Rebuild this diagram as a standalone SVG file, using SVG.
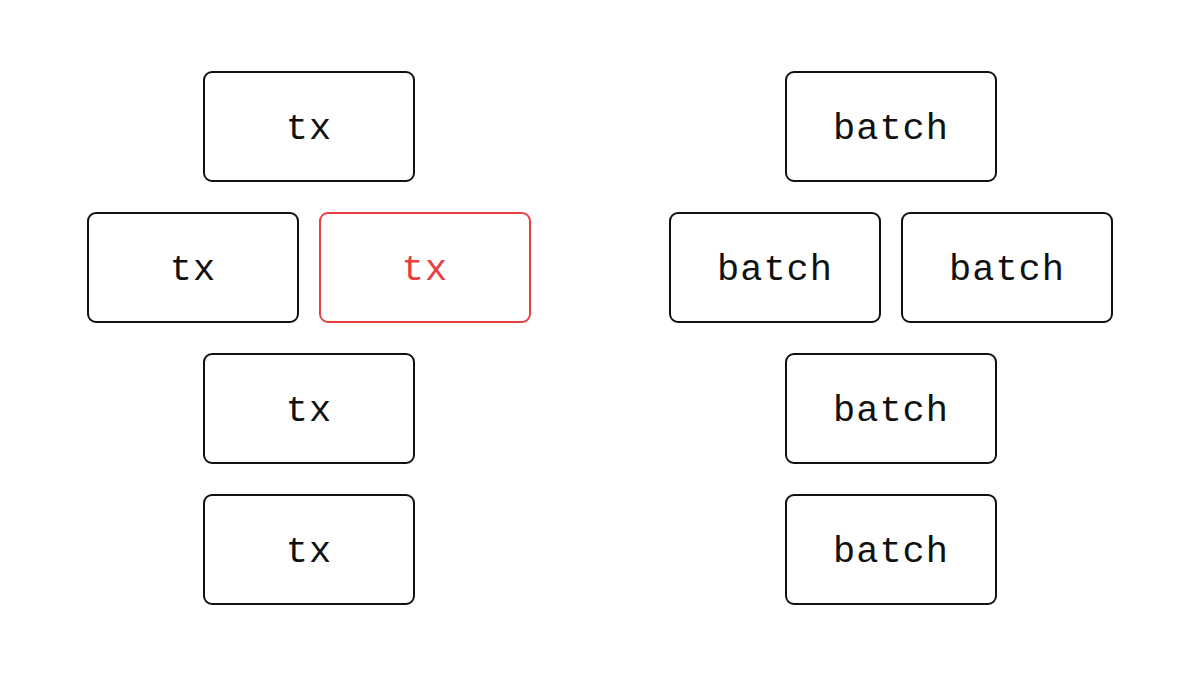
<svg xmlns="http://www.w3.org/2000/svg" width="1200" height="675" viewBox="0 0 1200 675">
<style>
.box{fill:#fff;stroke:#111;stroke-width:2}
.red .box{stroke:#e8403f}
.lbl{font-family:"Liberation Mono","DejaVu Sans Mono",monospace;font-size:37px;fill:#111;text-anchor:middle;letter-spacing:1px}
.red .lbl{fill:#e8403f}
</style>
<rect width="1200" height="675" fill="#fff"/>
<g id="tx1"><rect class="box" x="204" y="72" width="210" height="109" rx="8"/><text class="lbl" x="309" y="139">tx</text></g>
<g id="tx2"><rect class="box" x="88" y="213" width="210" height="109" rx="8"/><text class="lbl" x="193" y="280">tx</text></g>
<g id="tx3" class="red"><rect class="box" x="320" y="213" width="210" height="109" rx="8"/><text class="lbl" x="425" y="280">tx</text></g>
<g id="tx4"><rect class="box" x="204" y="354" width="210" height="109" rx="8"/><text class="lbl" x="309" y="421">tx</text></g>
<g id="tx5"><rect class="box" x="204" y="495" width="210" height="109" rx="8"/><text class="lbl" x="309" y="562">tx</text></g>
<g id="batch1"><rect class="box" x="786" y="72" width="210" height="109" rx="8"/><text class="lbl" x="891" y="139">batch</text></g>
<g id="batch2"><rect class="box" x="670" y="213" width="210" height="109" rx="8"/><text class="lbl" x="775" y="280">batch</text></g>
<g id="batch3"><rect class="box" x="902" y="213" width="210" height="109" rx="8"/><text class="lbl" x="1007" y="280">batch</text></g>
<g id="batch4"><rect class="box" x="786" y="354" width="210" height="109" rx="8"/><text class="lbl" x="891" y="421">batch</text></g>
<g id="batch5"><rect class="box" x="786" y="495" width="210" height="109" rx="8"/><text class="lbl" x="891" y="562">batch</text></g>
<g id="connectors"></g>
</svg>
